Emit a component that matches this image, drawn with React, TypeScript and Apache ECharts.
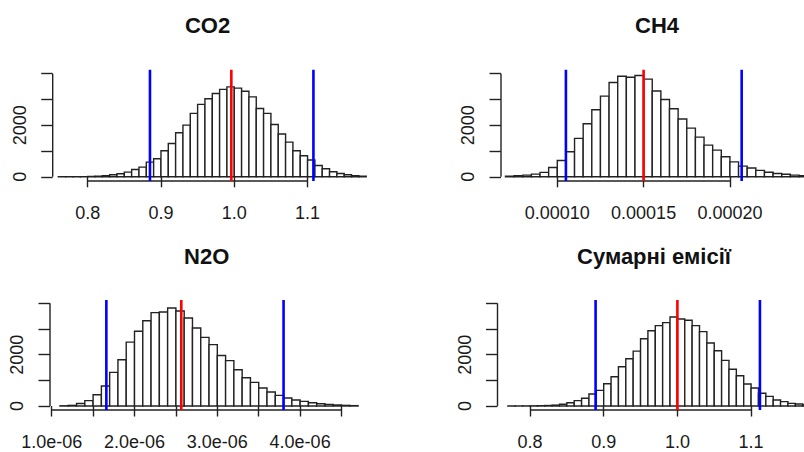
import React, { useEffect, useRef } from "react";
import * as echarts from "echarts";

const FONT = '"Liberation Sans", Arial, Helvetica, sans-serif';

// ---- data ----
const titles = ["CO2", "CH4", "N2O", "Сумарні емісії"];

const co2BinStart = 0.76;
const co2BinWidth = 0.01;
const co2Counts = [
  2, 3, 5, 8, 12, 25, 45, 80, 120, 180, 285, 375, 570, 700, 1010, 1290, 1710, 2005, 2460, 2810, 3030,
  3230, 3390, 3490, 3440, 3320, 3100, 2650, 2460, 2030, 1660, 1345, 1010, 815, 650, 440, 310, 195, 130,
  80, 40, 25,
];
const co2Mean = 0.996;
const co2Bounds = [0.885, 1.108];
const co2XTicks = [0.8, 0.9, 1.0, 1.1];

const ch4BinStart = 0.00007;
const ch4BinWidth = 0.000005;
const ch4Counts = [
  20, 40, 65, 105, 170, 360, 635, 970, 1490, 2060, 2600, 3130, 3660, 3900, 3860, 3930, 3790, 3330, 3000,
  2640, 2240, 1890, 1540, 1230, 1035, 780, 580, 415, 340, 250, 175, 130, 100, 65, 40,
];
const ch4Mean = 0.00015;
const ch4Bounds = [0.000105, 0.0002068];
const ch4XTicks = [0.0001, 0.00015, 0.0002];

const n2oBinStart = 1.1e-6;
const n2oBinWidth = 1e-7;
const n2oCounts = [
  10, 25, 100, 210, 440, 780, 1310, 1800, 2490, 2910, 3320, 3640, 3660, 3820, 3700, 3430, 3040, 2675,
  2390, 1970, 1770, 1415, 1100, 920, 700, 545, 415, 310, 235, 180, 130, 90, 65, 40, 25, 15,
];
const n2oMean = 2.565e-6;
const n2oBounds = [1.66e-6, 3.8e-6];
const n2oXTicks = [1.0e-6, 1.5e-6, 2.0e-6, 2.5e-6, 3.0e-6, 3.5e-6, 4.0e-6, 4.5e-6];
const n2oXLabels = [1.0e-6, 2.0e-6, 3.0e-6, 4.0e-6];

const sumBinStart = 0.77;
const sumBinWidth = 0.01;
const sumCounts = [
  2, 3, 5, 8, 12, 20, 35, 70, 130, 210, 300, 470, 610, 870, 1140, 1530, 1840, 2140, 2620, 2935, 3130,
  3250, 3470, 3390, 3340, 3130, 2900, 2455, 2155, 1780, 1430, 1180, 860, 700, 495, 375, 235, 170, 105,
  80, 50, 30,
];
const sumMean = 1.0;
const sumBounds = [0.889, 1.112];
const sumXTicks = [0.8, 0.9, 1.0, 1.1];

const yTicks = [0, 1000, 2000, 3000, 4000];
const yLabels = [0, 2000];

// ---- layout ----
const round = (v: number) => Number(v.toPrecision(10));
const bins = (start: number, w: number, counts: number[]) =>
  counts.map((c, i) => [round(start + i * w), round(start + (i + 1) * w), c]);

const fmtFixed1 = (v: number) => v.toFixed(1);
const fmtFixed5 = (v: number) => v.toFixed(5);
const fmtExp = (v: number) => v.toExponential(1).replace(/e-(\d)$/, "e-0$1");
const fmtInt = (v: number) => String(Math.round(v));

const panels = [
  {
    title: titles[0], tx: 207.5, ty: 25,
    grid: { left: 52.7, top: 69.5, width: 319.3, height: 111.5 },
    xMin: 0.7523, xMax: 1.1879, yMin: -163, yMax: 4163,
    data: bins(co2BinStart, co2BinWidth, co2Counts),
    mean: co2Mean, bounds: co2Bounds, xTicks: co2XTicks, xLabels: co2XTicks, fmt: fmtFixed1,
  },
  {
    title: titles[1], tx: 657, ty: 25,
    grid: { left: 501, top: 69.5, width: 303, height: 111.5 },
    xMin: 0.0000674, xMax: 0.0002429, yMin: -163, yMax: 4163,
    data: bins(ch4BinStart, ch4BinWidth, ch4Counts),
    mean: ch4Mean, bounds: ch4Bounds, xTicks: ch4XTicks, xLabels: ch4XTicks, fmt: fmtFixed5,
  },
  {
    title: titles[2], tx: 206.7, ty: 256.3,
    grid: { left: 50, top: 300, width: 322, height: 110 },
    xMin: 0.9795e-6, xMax: 4.868e-6, yMin: -155, yMax: 4130,
    data: bins(n2oBinStart, n2oBinWidth, n2oCounts),
    mean: n2oMean, bounds: n2oBounds, xTicks: n2oXTicks, xLabels: n2oXLabels, fmt: fmtExp,
  },
  {
    title: titles[3], tx: 654, ty: 256.5,
    grid: { left: 497.5, top: 300, width: 306.5, height: 110 },
    xMin: 0.7559, xMax: 1.1718, yMin: -155, yMax: 4130,
    data: bins(sumBinStart, sumBinWidth, sumCounts),
    mean: sumMean, bounds: sumBounds, xTicks: sumXTicks, xLabels: sumXTicks, fmt: fmtFixed1,
  },
];

const histItem = (params: any, api: any) => {
  const p0 = api.coord([api.value(0), api.value(2)]);
  const p1 = api.coord([api.value(1), 0]);
  return {
    type: "rect",
    shape: { x: p0[0], y: p0[1], width: p1[0] - p0[0], height: p1[1] - p0[1] },
    style: { fill: "#ffffff", stroke: "#222222", lineWidth: 1.4 },
  };
};

const segItem = (color: string, width: number) => (params: any, api: any) => {
  const a = api.coord([api.value(0), api.value(1)]);
  const b = api.coord([api.value(2), api.value(3)]);
  return {
    type: "line",
    shape: { x1: a[0], y1: a[1], x2: b[0], y2: b[1] },
    style: { stroke: color, lineWidth: width },
  };
};

function buildOption() {
  const grid: any[] = [];
  const xAxis: any[] = [];
  const yAxis: any[] = [];
  const series: any[] = [];
  const graphic: any[] = [];
  panels.forEach((p, i) => {
    grid.push({ ...p.grid, containLabel: false });
    xAxis.push({
      type: "value", gridIndex: i, min: p.xMin, max: p.xMax, position: "bottom",
      axisLine: { show: false }, splitLine: { show: false },
      axisTick: { show: true, length: 10.5, lineStyle: { color: "#222", width: 1.4 }, customValues: p.xTicks },
      axisLabel: {
        show: true, customValues: p.xLabels, formatter: p.fmt, fontFamily: FONT, fontSize: 18,
        lineHeight: 18, color: "#1a1a1a", margin: 23,
      },
    });
    yAxis.push({
      type: "value", gridIndex: i, min: p.yMin, max: p.yMax, position: "left",
      axisLine: { show: false }, splitLine: { show: false },
      axisTick: { show: true, length: 11.5, lineStyle: { color: "#222", width: 1.4 }, customValues: yTicks },
      axisLabel: {
        show: true, customValues: yLabels, formatter: fmtInt, rotate: 90, fontFamily: FONT, fontSize: 18,
        lineHeight: 18, color: "#1a1a1a", margin: 24,
      },
    });
    series.push({
      type: "custom", xAxisIndex: i, yAxisIndex: i, renderItem: histItem, clip: true,
      data: p.data, encode: { x: [0, 1], y: 2 }, silent: true,
    });
    const xt = p.xTicks;
    series.push({
      type: "custom", xAxisIndex: i, yAxisIndex: i, renderItem: segItem("#222", 1.4), clip: false,
      data: [
        [xt[0], p.yMin, xt[xt.length - 1], p.yMin],
        [p.xMin, yTicks[0], p.xMin, yTicks[yTicks.length - 1]],
      ],
      silent: true,
    });
    series.push({
      type: "custom", xAxisIndex: i, yAxisIndex: i, renderItem: segItem("#0000ff", 2.6), clip: true,
      data: p.bounds.map((b) => [b, p.yMin, b, p.yMax]), silent: true,
    });
    series.push({
      type: "custom", xAxisIndex: i, yAxisIndex: i, renderItem: segItem("#ff0000", 2.6), clip: true,
      data: [[p.mean, p.yMin, p.mean, p.yMax]], silent: true,
    });
    graphic.push({
      type: "text", x: p.tx, y: p.ty,
      style: {
        text: p.title, fill: "#111", font: `bold 22px ${FONT}`,
        textAlign: "center", textVerticalAlign: "middle",
      },
    });
  });
  return { animation: false, backgroundColor: "#ffffff", grid, xAxis, yAxis, series, graphic };
}

export default function App() {
  const ref = useRef<HTMLDivElement>(null);
  useEffect(() => {
    if (!ref.current) return;
    const chart = echarts.init(ref.current, undefined, { renderer: "svg" });
    chart.setOption(buildOption() as any);
    return () => chart.dispose();
  }, []);
  return (
    <div
      ref={ref}
      style={{ position: "fixed", left: 0, top: 0, width: 804, height: 452, background: "#fff" }}
    />
  );
}
